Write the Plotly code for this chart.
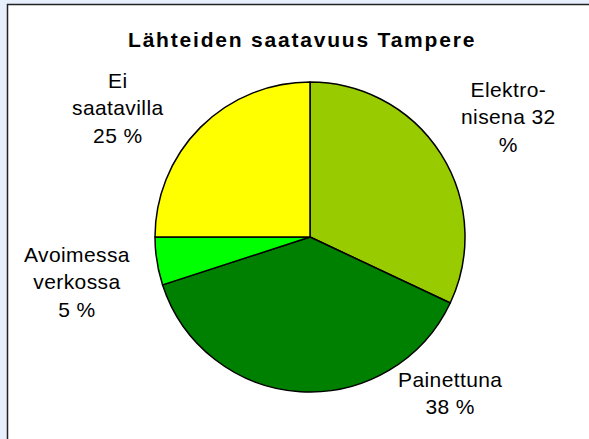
import plotly.graph_objects as go

# Data
categories = ["Elektronisena", "Painettuna", "Avoimessa verkossa", "Ei saatavilla"]
values = [32, 38, 5, 25]
label_texts = ["Elektro-<br>nisena 32<br>%", "Painettuna<br>38 %", "Avoimessa<br>verkossa<br>5 %", "Ei<br>saatavilla<br>25 %"]
colors = ["#99CC00", "#008000", "#00FF00", "#FFFF00"]
title_text = "Lähteiden saatavuus Tampere"

W, H = 589, 439
# label centres in pixels (layout positions)
label_pos = [(508, 117), (450, 393), (77, 282), (118, 108)]

cx, cy, r = 310, 237, 155

fig = go.Figure(go.Pie(
    labels=categories,
    values=values,
    sort=False,
    direction="clockwise",
    rotation=0,
    marker=dict(colors=colors, line=dict(color="black", width=1.5)),
    textinfo="none",
    hoverinfo="label+percent",
    showlegend=False,
    domain=dict(x=[(cx - r) / W, (cx + r) / W], y=[(H - cy - r) / H, (H - cy + r) / H]),
))

annotations = []
for txt, (px, py) in zip(label_texts, label_pos):
    annotations.append(dict(
        text='<span style="letter-spacing:0.4px">' + txt.replace("<br>", '</span><br><span style="letter-spacing:0.4px">') + "</span>",
        x=px / W, y=1 - py / H, xref="paper", yref="paper",
        xanchor="center", yanchor="middle", showarrow=False, align="center",
        font=dict(family="Liberation Sans, Arial, sans-serif", size=21, color="black"),
    ))
annotations.append(dict(
    text='<b><span style="letter-spacing:1.8px">' + title_text + "</span></b>",
    x=302 / W, y=1 - 39 / H, xref="paper", yref="paper",
    xanchor="center", yanchor="middle", showarrow=False,
    font=dict(family="Liberation Sans, Arial, sans-serif", size=21, color="black"),
))

fig.update_layout(
    width=W, height=H,
    margin=dict(l=0, r=0, t=0, b=0),
    paper_bgcolor="#E6EFFB",
    plot_bgcolor="white",
    annotations=annotations,
    shapes=[dict(type="rect", xref="paper", yref="paper",
                 x0=7.5 / W, x1=1.05, y0=-0.05, y1=1 - 4.5 / H,
                 fillcolor="white", line=dict(color="#222222", width=1.5), layer="below")],
)

fig.write_html("out.html", config={"displayModeBar": False},
               post_script="document.body.style.margin='0';document.body.style.overflow='hidden';")
